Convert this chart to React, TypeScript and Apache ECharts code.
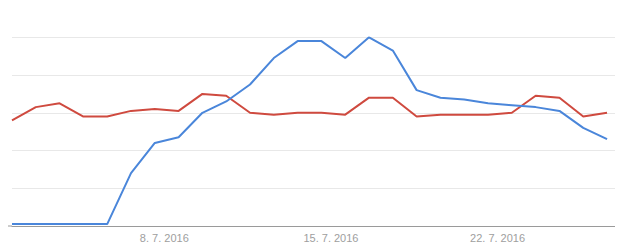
import React, { useEffect, useRef } from "react";
import * as echarts from "echarts";

// Days of July 2016 (one point per day)
const days = [1, 2, 3, 4, 5, 6, 7, 8, 9, 10, 11, 12, 13, 14, 15, 16, 17, 18, 19, 20, 21, 22, 23, 24, 25, 26];
const blueValues = [1, 1, 1, 1, 1, 28, 44, 47, 60, 66, 75, 89, 98, 98, 89, 100, 93, 72, 68, 67, 65, 64, 63, 61, 52, 46];
const redValues = [56, 63, 65, 58, 58, 61, 62, 61, 70, 69, 60, 59, 60, 60, 59, 68, 68, 58, 59, 59, 59, 60, 69, 68, 58, 60];
const tickDays = [8, 15, 22];
const tickLabels = ["8. 7. 2016", "15. 7. 2016", "22. 7. 2016"];

const dayShift = 0.6;

export default function App() {
  const ref = useRef<HTMLDivElement>(null);
  useEffect(() => {
    if (!ref.current) return;
    const chart = echarts.init(ref.current, null, { renderer: "svg" });
    const xMin = days[0] + dayShift;
    const xMax = xMin + 25.67;
    chart.setOption({
      animation: false,
      backgroundColor: "#ffffff",
      grid: { left: 12, right: 0, top: 37.3, bottom: 25, containLabel: false },
      xAxis: {
        type: "value",
        min: xMin,
        max: xMax,
        axisLine: { show: true, lineStyle: { color: "#9a9a9a", width: 1 } },
        axisTick: { show: false },
        splitLine: { show: false },
        axisLabel: {
          customValues: tickDays,
          formatter: (v: number) => {
            const idx = tickDays.indexOf(Math.round(v));
            return idx >= 0 ? tickLabels[idx] : "";
          },
          color: "#9e9e9e",
          fontFamily: "Liberation Sans, Arial, sans-serif",
          fontSize: 11,
          margin: 6,
        },
      },
      yAxis: {
        type: "value",
        min: 0,
        max: 100,
        interval: 20,
        axisLine: { show: false },
        axisTick: { show: false },
        axisLabel: { show: false },
        splitLine: { show: true, lineStyle: { color: "#e8e8e8", width: 1 } },
      },
      graphic: [
        {
          type: "line",
          shape: { x1: 0, y1: 226, x2: 12, y2: 226 },
          style: { stroke: "#9a9a9a", lineWidth: 1 },
          silent: true,
        },
      ],
      series: [
        {
          type: "line",
          data: days.map((d, i) => [d + dayShift, redValues[i]]),
          showSymbol: false,
          lineStyle: { color: "#cf4a3f", width: 2 },
          itemStyle: { color: "#cf4a3f" },
          z: 2,
        },
        {
          type: "line",
          data: days.map((d, i) => [d + dayShift, blueValues[i]]),
          showSymbol: false,
          lineStyle: { color: "#4a86da", width: 2 },
          itemStyle: { color: "#4a86da" },
          z: 3,
        },
      ],
    });
    return () => chart.dispose();
  }, []);
  return <div ref={ref} style={{ width: 623, height: 251, margin: -8 }} />;
}
